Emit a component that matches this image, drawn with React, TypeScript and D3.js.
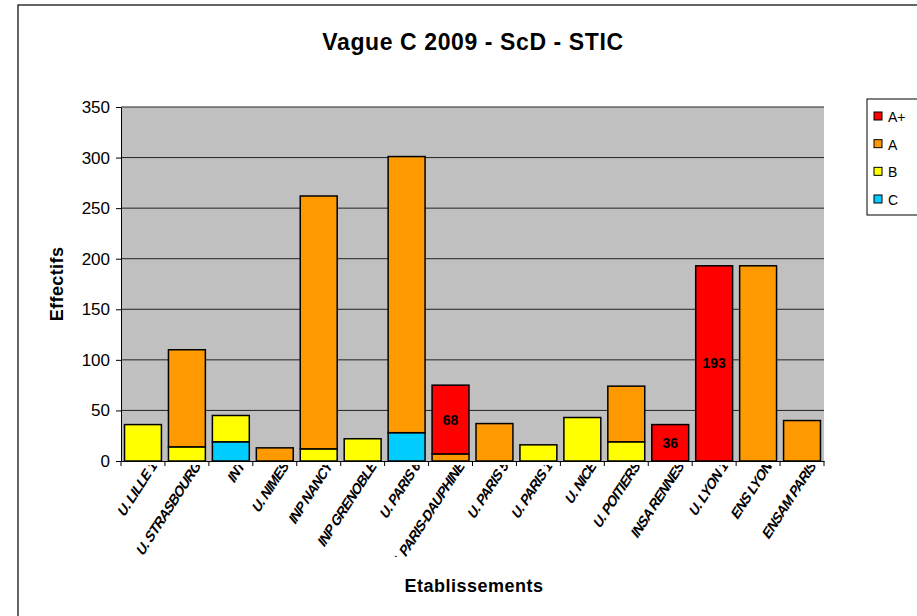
import React, { useEffect, useRef } from 'react';
import * as d3 from 'd3';

// data
const categories = [
  'U. LILLE 1', 'U. STRASBOURG', 'INT', 'U. NIMES', 'INP NANCY', 'INP GRENOBLE',
  'U. PARIS 6', 'U. PARIS-DAUPHINE', 'U. PARIS 5', 'U. PARIS 1', 'U. NICE',
  'U. POITIERS', 'INSA RENNES', 'U. LYON 1', 'ENS LYON', 'ENSAM PARIS',
];
const seriesNames = ['C', 'B', 'A', 'A+'];
const valuesC = [0, 0, 19, 0, 0, 0, 28, 0, 0, 0, 0, 0, 0, 0, 0, 0];
const valuesB = [36, 14, 26, 0, 12, 22, 0, 0, 0, 16, 43, 19, 0, 0, 0, 0];
const valuesA = [0, 96, 0, 13, 250, 0, 273, 7, 37, 0, 0, 55, 0, 0, 193, 40];
const valuesAPlus = [0, 0, 0, 0, 0, 0, 0, 68, 0, 0, 0, 0, 36, 193, 0, 0];
const yTicks = [0, 50, 100, 150, 200, 250, 300, 350];
const colors: Record<string, string> = { 'A+': '#FF0000', A: '#FF9900', B: '#FFFF00', C: '#00CCFF' };

const W = 917;
const H = 616;
const FONT = 'Arial, "Liberation Sans", sans-serif';

const App = () => {
  const svgRef = useRef<SVGSVGElement>(null);

  useEffect(() => {
    const svg = d3.select(svgRef.current);
    svg.selectAll('*').remove();

    const margin = { top: 107, right: W - 824, bottom: H - 461, left: 121 };

    // outer chart border
    svg.append('rect')
      .attr('x', 18).attr('y', 5).attr('width', W + 10).attr('height', H + 10)
      .attr('fill', 'white').attr('stroke', 'black').attr('stroke-width', 1.2);

    svg.append('text')
      .attr('x', 473).attr('y', 50)
      .attr('text-anchor', 'middle')
      .attr('font-family', FONT).attr('font-weight', 'bold').attr('font-size', 23)
      .attr('letter-spacing', 0.6)
      .text('Vague C 2009 - ScD - STIC');

    const x = d3.scaleBand<string>()
      .domain(categories)
      .range([margin.left, W - margin.right])
      .paddingInner(0.16)
      .paddingOuter(0.08);

    const y = d3.scaleLinear()
      .domain([0, 350])
      .range([H - margin.bottom, margin.top]);

    // plot background
    svg.append('rect')
      .attr('x', margin.left).attr('y', margin.top)
      .attr('width', W - margin.right - margin.left)
      .attr('height', H - margin.bottom - margin.top)
      .attr('fill', '#C0C0C0');

    // gridlines
    svg.append('g')
      .selectAll('line')
      .data(yTicks.slice(1))
      .join('line')
      .attr('x1', margin.left).attr('x2', W - margin.right)
      .attr('y1', d => y(d)).attr('y2', d => y(d))
      .attr('stroke', '#222').attr('stroke-width', 1);

    // stacked bars
    const rows = categories.map((c, i) => ({
      cat: c, C: valuesC[i], B: valuesB[i], A: valuesA[i], 'A+': valuesAPlus[i],
    }));
    const stack = d3.stack<any>().keys(seriesNames)(rows);

    stack.forEach(layer => {
      svg.append('g')
        .selectAll('rect')
        .data(layer.filter(d => d[1] - d[0] > 0))
        .join('rect')
        .attr('x', d => x(d.data.cat)!)
        .attr('width', x.bandwidth())
        .attr('y', d => y(d[1]))
        .attr('height', d => y(d[0]) - y(d[1]))
        .attr('fill', colors[layer.key])
        .attr('stroke', 'black')
        .attr('stroke-width', 1.5);
    });

    // data labels for A+
    const top = stack.find(l => l.key === 'A+')!;
    svg.append('g')
      .selectAll('text')
      .data(top.filter(d => d[1] - d[0] > 0))
      .join('text')
      .attr('x', d => x(d.data.cat)! + x.bandwidth() / 2)
      .attr('y', d => y((d[0] + d[1]) / 2) + 5)
      .attr('text-anchor', 'middle')
      .attr('font-family', FONT).attr('font-weight', 'bold').attr('font-size', 14)
      .text(d => String(d[1] - d[0]));

    // axes
    const yAxis = svg.append('g')
      .attr('transform', `translate(${margin.left},0)`)
      .call(d3.axisLeft(y).tickValues(yTicks).tickSize(5).tickSizeOuter(0));
    yAxis.select('.domain').attr('stroke', 'black');
    yAxis.selectAll('text').attr('font-family', FONT).attr('font-size', 17).attr('dx', -3);

    const xAxis = svg.append('g')
      .attr('transform', `translate(0,${H - margin.bottom})`)
      .call(d3.axisBottom(x).tickValues([]).tickSizeOuter(0));
    xAxis.select('.domain').attr('stroke', 'black');
    const edges = categories.map(c => x(c)! - (x.step() - x.bandwidth()) / 2);
    edges.push(W - margin.right);
    xAxis.selectAll('line.edge')
      .data(edges)
      .join('line')
      .attr('class', 'edge')
      .attr('x1', d => d).attr('x2', d => d)
      .attr('y1', 0).attr('y2', 5)
      .attr('stroke', 'black');

    // rotated category labels, cut at the right edge of each band
    const defs = svg.append('defs');
    categories.forEach((c, i) => {
      defs.append('clipPath').attr('id', `clip${i}`)
        .append('rect')
        .attr('x', edges[i] - 120).attr('y', H - margin.bottom + 4)
        .attr('width', edges[i + 1] - edges[i] + 122).attr('height', 92);
    });
    svg.append('g')
      .selectAll('g')
      .data(categories)
      .join('g')
      .attr('clip-path', (d, i) => `url(#clip${i})`)
      .append('text')
      .attr('transform', d => `translate(${x(d)! + x.bandwidth() / 2 + 14},${H - margin.bottom + 6}) rotate(-57) skewX(-16)`)
      .attr('text-anchor', 'end')
      .attr('font-family', FONT).attr('font-weight', 'bold').attr('font-size', 14)
      .attr('letter-spacing', -0.8)
      .text(d => d);

    // axis titles
    svg.append('text')
      .attr('transform', `translate(63,${(margin.top + H - margin.bottom) / 2}) rotate(-90)`)
      .attr('text-anchor', 'middle')
      .attr('font-family', FONT).attr('font-weight', 'bold').attr('font-size', 18)
      .attr('letter-spacing', 0.4)
      .text('Effectifs');

    svg.append('text')
      .attr('x', 474).attr('y', 592)
      .attr('text-anchor', 'middle')
      .attr('font-family', FONT).attr('font-weight', 'bold').attr('font-size', 18)
      .attr('letter-spacing', 0.5)
      .text('Etablissements');

    // legend
    const legend = svg.append('g');
    legend.append('rect')
      .attr('x', 867).attr('y', 99).attr('width', 60).attr('height', 116)
      .attr('fill', 'white').attr('stroke', 'black').attr('stroke-width', 1);
    const legendKeys = ['A+', 'A', 'B', 'C'];
    const ly = d3.scalePoint<string>().domain(legendKeys).range([117, 200]);
    legendKeys.forEach(k => {
      legend.append('rect')
        .attr('x', 874).attr('y', ly(k)! - 5).attr('width', 8).attr('height', 8)
        .attr('fill', colors[k]).attr('stroke', 'black').attr('stroke-width', 1);
      legend.append('text')
        .attr('x', 888).attr('y', ly(k)! + 5)
        .attr('font-family', FONT).attr('font-size', 14)
        .text(k);
    });
  }, []);

  return (
    <svg ref={svgRef} width={W} height={H}
      style={{ position: 'absolute', left: 0, top: 0, background: 'white' }} />
  );
};

export default App;
